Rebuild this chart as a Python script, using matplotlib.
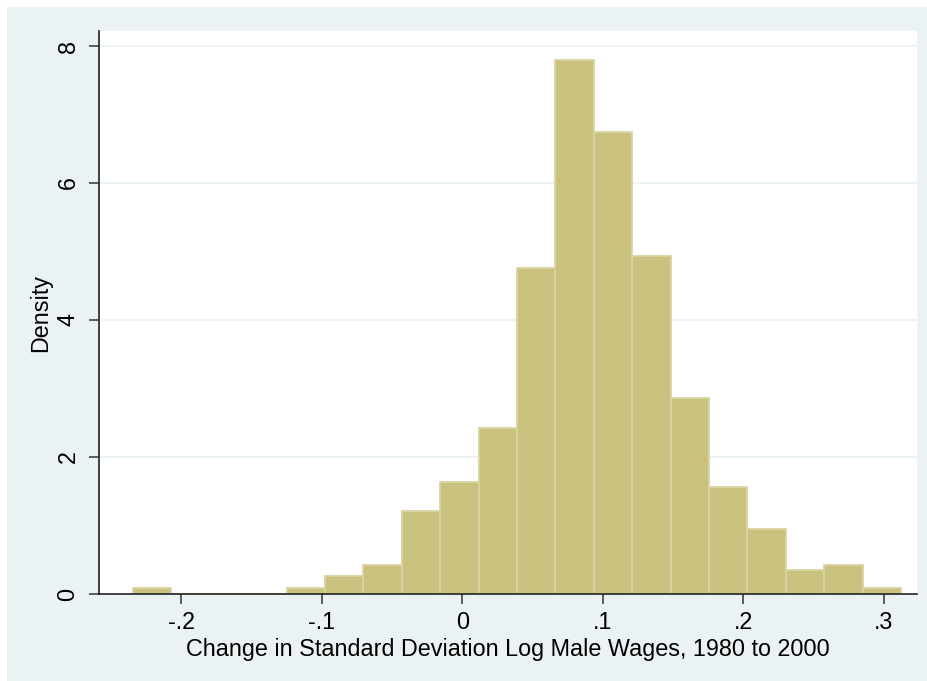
import matplotlib
matplotlib.use("Agg")
import matplotlib.pyplot as plt
from matplotlib.patches import Rectangle
import numpy as np

plt.rcParams['font.family'] = ['Liberation Sans', 'DejaVu Sans']

# Histogram data (density per bin)
bin_start = -0.2344
bin_width = 0.02733
densities = [0.085, 0, 0, 0, 0.085, 0.26, 0.43, 1.21, 1.64, 2.42, 4.76,
             7.79, 6.75, 4.93, 2.86, 1.56, 0.95, 0.35, 0.43, 0.085]
x_ticks = [-0.2, -0.1, 0, 0.1, 0.2, 0.3]
x_tick_labels = ['-.2', '-.1', '0', '.1', '.2', '.3']
y_ticks = [0, 2, 4, 6, 8]
y_tick_labels = ['0', '2', '4', '6', '8']
x_label = 'Change in Standard Deviation Log Male Wages, 1980 to 2000'
y_label = 'Density'

W, H = 928, 681
fig = plt.figure(figsize=(W / 100, H / 100), dpi=100, facecolor='white')
bg = '#EAF2F3'
fig.patches.append(Rectangle((7 / W, 0), 1 - 7 / W, 1 - 7 / H, transform=fig.transFigure,
                             facecolor=bg, edgecolor='none', zorder=-10))

ax = fig.add_axes([99 / W, (H - 594) / H, (917 - 99) / W, (594 - 31) / H])
ax.set_zorder(1)
ax.set_facecolor('white')

edges = bin_start + bin_width * np.arange(len(densities))
ax.bar(edges, densities, width=bin_width, align='edge', color='#C9C17E',
       edgecolor='#D9D4A2', linewidth=1.3, zorder=3)

ax.set_xlim(-0.2586, 0.3236)
ax.set_ylim(0, 8.22)

for y in y_ticks[1:]:
    ax.axhline(y, color=bg, linewidth=1.3, zorder=1)

fs = 16.8
ax.set_xticks(x_ticks)
ax.set_xticklabels(x_tick_labels, fontsize=fs)
ax.set_yticks(y_ticks)
ax.set_yticklabels(y_tick_labels, fontsize=fs, rotation=90, va='center')
ax.tick_params(axis='both', direction='out', length=7, width=1.1, color='#333333')
ax.tick_params(axis='x', pad=5)
ax.tick_params(axis='y', pad=7)

for s in ['top', 'right']:
    ax.spines[s].set_visible(False)
for s in ['left', 'bottom']:
    ax.spines[s].set_linewidth(1.2)
    ax.spines[s].set_color('#222222')
    ax.spines[s].set_zorder(4)

ax.set_xlabel(x_label, fontsize=fs, labelpad=3)
ax.set_ylabel(y_label, fontsize=fs, labelpad=3)

fig.savefig('out.png', dpi=100, facecolor='white')
